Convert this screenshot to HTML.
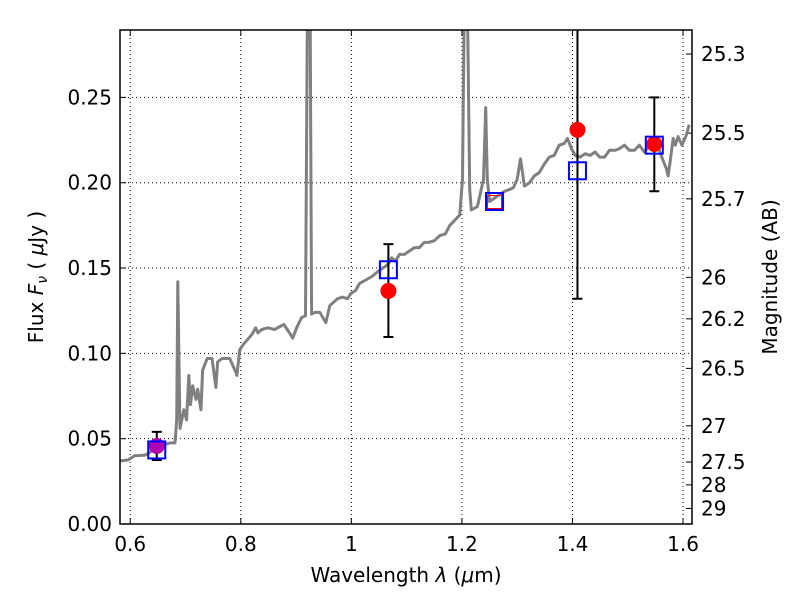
<!DOCTYPE html>
<html><head><meta charset="utf-8"><style>
body{margin:0;background:#fff}
svg text{font-family:"DejaVu Sans","Liberation Sans",sans-serif;font-size:20px;fill:#000}
</style></head><body>
<svg id="c" width="800" height="600"></svg>
<script>
const specWave=[0.581,0.596,0.608,0.627,0.639,0.654,0.672,0.681,0.684,0.686,0.690,0.697,0.702,0.706,0.709,0.713,0.719,0.722,0.728,0.731,0.739,0.748,0.755,0.758,0.766,0.780,0.791,0.793,0.798,0.804,0.820,0.827,0.831,0.838,0.849,0.861,0.878,0.894,0.901,0.910,0.917,0.921,0.925,0.928,0.934,0.943,0.954,0.961,0.975,0.984,0.993,0.999,1.008,1.015,1.026,1.037,1.048,1.057,1.066,1.073,1.080,1.087,1.096,1.105,1.114,1.123,1.132,1.140,1.150,1.160,1.170,1.178,1.187,1.196,1.201,1.205,1.209,1.214,1.217,1.228,1.239,1.243,1.246,1.250,1.259,1.268,1.277,1.286,1.293,1.300,1.306,1.313,1.322,1.331,1.340,1.349,1.358,1.367,1.376,1.385,1.391,1.398,1.405,1.414,1.423,1.432,1.441,1.449,1.458,1.467,1.477,1.485,1.494,1.503,1.512,1.521,1.530,1.539,1.548,1.557,1.564,1.570,1.573,1.577,1.582,1.586,1.591,1.598,1.606,1.611];
const specFlux=[0.037,0.0375,0.040,0.0404,0.0428,0.0457,0.0475,0.0475,0.061,0.142,0.056,0.067,0.061,0.087,0.070,0.081,0.073,0.079,0.067,0.090,0.097,0.097,0.080,0.095,0.097,0.097,0.089,0.087,0.102,0.105,0.111,0.115,0.112,0.114,0.115,0.114,0.117,0.109,0.115,0.121,0.122,0.33,0.33,0.123,0.124,0.124,0.118,0.128,0.132,0.133,0.132,0.135,0.137,0.141,0.143,0.145,0.148,0.150,0.152,0.156,0.154,0.158,0.158,0.160,0.162,0.162,0.165,0.165,0.166,0.169,0.170,0.175,0.178,0.181,0.202,0.33,0.33,0.196,0.184,0.186,0.202,0.244,0.202,0.189,0.191,0.193,0.195,0.196,0.197,0.202,0.214,0.198,0.200,0.204,0.206,0.211,0.215,0.216,0.222,0.223,0.226,0.220,0.216,0.215,0.217,0.216,0.218,0.215,0.215,0.219,0.219,0.220,0.222,0.219,0.219,0.222,0.218,0.222,0.221,0.219,0.213,0.208,0.204,0.213,0.226,0.222,0.227,0.222,0.228,0.234];
const photWave=[0.648,1.067,1.259,1.409,1.548];
const photFlux=[0.0457,0.1366,null,0.231,0.2227];
const photLo=[0.0375,0.1096,null,0.132,0.195];
const photHi=[0.054,0.164,null,0.35,0.250];
const modelFlux=[0.0434,0.149,0.189,0.207,0.222];
const xTicks=[0.6,0.8,1.0,1.2,1.4,1.6];
const xTickLabels=["0.6","0.8","1","1.2","1.4","1.6"];
const yTicks=[0,0.05,0.10,0.15,0.20,0.25];
const yTickLabels=["0.00","0.05","0.10","0.15","0.20","0.25"];
const magTicks=[25.3,25.5,25.7,26,26.2,26.5,27,27.5,28,29];

const L=120,R=692,T=30,B=524;
const x0=0.5815,x1=1.6162,y0=0,y1=0.2895;
const X=v=>L+(v-x0)/(x1-x0)*(R-L);
const Y=v=>B-(v-y0)/(y1-y0)*(B-T);
const svg=document.getElementById('c');
const NS='http://www.w3.org/2000/svg';
function mk(tag,attrs,parent){const e=document.createElementNS(NS,tag);for(const k in attrs)e.setAttribute(k,attrs[k]);(parent||svg).appendChild(e);return e;}
const defs=mk('defs',{});const cp=mk('clipPath',{id:'clip'},defs);mk('rect',{x:L,y:T,width:R-L,height:B-T},cp);
xTicks.forEach((t,i)=>{const x=X(t);
 const g=mk('line',{x1:x,x2:x,y1:T,y2:B,stroke:'#000','stroke-dasharray':'1,3','stroke-width':1});
 
 
 mk('line',{x1:x,x2:x,y1:B,y2:B-6,stroke:'#000'});mk('line',{x1:x,x2:x,y1:T,y2:T+6,stroke:'#000'});
 const tx=mk('text',{x:x,y:B+27,'text-anchor':'middle','font-size':'20'});tx.textContent=xTickLabels[i];
 
 });
yTicks.forEach((t,i)=>{const y=Y(t);
 const g=mk('line',{x1:L,x2:R,y1:y,y2:y,stroke:'#000','stroke-dasharray':'1,3','stroke-width':1});
 
 
 mk('line',{x1:L,x2:L+6,y1:y,y2:y,stroke:'#000'});
 const tx=mk('text',{x:L-8,y:y+7,'text-anchor':'end','font-size':'20'});tx.textContent=yTickLabels[i];
 
 });
magTicks.forEach(m=>{const y=Y(Math.pow(10,(23.9-m)/2.5));
 mk('line',{x1:R,x2:R-6,y1:y,y2:y,stroke:'#000'});
 const tx=mk('text',{x:R+9,y:y+7,'font-size':'20'});tx.textContent=String(m);
 
 });
const pts=specWave.map((w,i)=>X(w).toFixed(1)+','+Y(specFlux[i]).toFixed(1)).join(' ');
const sp=mk('polyline',{points:pts,fill:'none',stroke:'#808080','stroke-width':3,'clip-path':'url(#clip)','stroke-linejoin':'round'});


photWave.forEach((w,i)=>{const x=X(w);
 if(photFlux[i]!==null){
  const eb=mk('line',{x1:x,x2:x,y1:Y(photLo[i]),y2:Y(photHi[i]),stroke:'#000','stroke-width':2,'clip-path':'url(#clip)'});
  
  
  [photLo[i],photHi[i]].forEach(v=>{if(v<y1)mk('line',{x1:x-5,x2:x+5,y1:Y(v),y2:Y(v),stroke:'#000','stroke-width':2});});
  const c=mk('circle',{cx:x,cy:Y(photFlux[i]),r:8,fill:i===0?'#b000b0':'#ff0000'});
  
  
 } else {
  const r=mk('rect',{x:x-7,y:Y(modelFlux[i])-6,width:14,height:13,fill:'none',stroke:'#ff0000','stroke-width':1});
  
  
 }
 const s=mk('rect',{x:x-8.5,y:Y(modelFlux[i])-8.5,width:17,height:17,fill:'none',stroke:'#0000ff','stroke-width':2});
 
 
});
const fr=mk('rect',{x:L,y:T,width:R-L,height:B-T,fill:'none',stroke:'#000','stroke-width':1.5});


</script>
<svg style="position:absolute;left:0;top:0" width="800" height="600">
<text x="406" y="582" text-anchor="middle" font-size="20">Wavelength  <tspan font-style="italic">λ</tspan> (<tspan font-style="italic">μ</tspan>m)</text>
<text transform="translate(43,277) rotate(-90)" text-anchor="middle" font-size="20">Flux  <tspan font-style="italic">F</tspan><tspan font-style="italic" font-size="14" dy="4">ν</tspan><tspan dy="-4">  (  </tspan><tspan font-style="italic">μ</tspan>Jy )</text>
<text transform="translate(777,277) rotate(-90)" text-anchor="middle" font-size="20">Magnitude (AB)</text>
</svg>
</body></html>
